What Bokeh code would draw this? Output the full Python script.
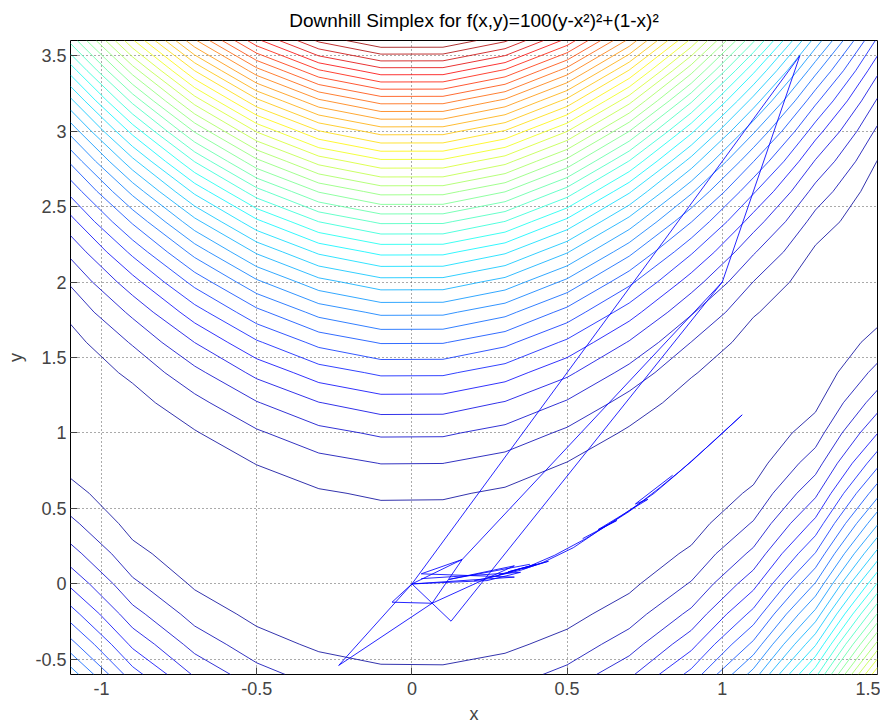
import numpy as np
from bokeh.plotting import figure
from bokeh.models import FixedTicker, Range1d
from bokeh.embed import file_html
from bokeh.resources import INLINE

# ---- data ----
GRID_X = np.linspace(-1.1, 1.5, 14)      # mesh x (step 0.2)
GRID_Y = np.linspace(-0.6, 3.6, 22)      # mesh y (step 0.2)
N_LEVELS = 40

X_TICKS = [-1, -0.5, 0, 0.5, 1, 1.5]
X_TICK_LABELS = ["-1", "-0.5", "0", "0.5", "1", "1.5"]
Y_TICKS = [-0.5, 0, 0.5, 1, 1.5, 2, 2.5, 3, 3.5]
Y_TICK_LABELS = ["-0.5", "0", "0.5", "1", "1.5", "2", "2.5", "3", "3.5"]

# simplex path segments
PATH_XS = [
    [0.162, 0.0, 1.25, 1.0, 0.162],
    [1.0, 0.126, 0.0],
    [0.0, -0.236, 0.065, -0.064, 0.0],
    [0.065, 0.162, 0.03, 0.33, 0.0],
    [0.0, 0.242, 0.35, 0.03],
    [0.065, 0.33, 0.12, 0.38],
    [0.20, 0.35, 0.42, 0.52, 0.60, 0.70, 0.80, 0.90, 1.00, 1.064],
    [1.064, 0.98, 0.86, 0.78, 0.66, 0.56, 0.46, 0.37, 0.25],
    [0.28, 0.40, 0.31, 0.44, 0.36],
    [0.84, 0.72, 0.76, 0.60, 0.66, 0.55],
]
PATH_YS = [
    [0.162, 0.0, 3.5, 2.0, 0.162],
    [2.0, -0.247, 0.0],
    [0.0, -0.54, -0.128, -0.121, 0.0],
    [-0.128, 0.162, 0.067, 0.045, 0.0],
    [0.0, 0.022, 0.077, 0.035],
    [-0.128, 0.12, 0.03, 0.13],
    [0.02, 0.09, 0.14, 0.24, 0.35, 0.48, 0.64, 0.81, 1.00, 1.12],
    [1.12, 0.96, 0.74, 0.60, 0.43, 0.30, 0.19, 0.11, 0.04],
    [0.06, 0.13, 0.08, 0.15, 0.10],
    [0.72, 0.53, 0.56, 0.36, 0.42, 0.30],
]

TITLE = "Downhill Simplex for f(x,y)=100(y-x²)²+(1-x)²"

# ---- field ----
GX, GY = np.meshgrid(GRID_X, GRID_Y)
Z = 100 * (GY - GX ** 2) ** 2 + (1 - GX) ** 2
zmin, zmax = float(Z.min()), float(Z.max())
levels = np.linspace(zmin, zmax, N_LEVELS + 2)[1:-1]


def jet(t):
    r = min(max(1.5 - abs(4 * t - 3), 0), 1)
    g = min(max(1.5 - abs(4 * t - 2), 0), 1)
    b = min(max(1.5 - abs(4 * t - 1), 0), 1)
    return "#%02x%02x%02x" % (int(r * 255), int(g * 255), int(b * 255))


colors = [jet((lv - zmin) / (zmax - zmin)) for lv in levels]

FONT = "Liberation Sans"

p = figure(width=880, height=726, output_backend="svg", toolbar_location=None,
           x_range=Range1d(-1.1, 1.5), y_range=Range1d(-0.6, 3.6),
           min_border_left=70, min_border_right=3, min_border_top=40, min_border_bottom=52)
p.title.text = TITLE
p.title.align = "center"
p.title.vertical_align = "top"
p.title.text_font = FONT
p.title.text_font_size = "19px"
p.title.text_font_style = "normal"
p.title.text_color = "#000000"
p.title.standoff = 16

p.contour(x=GRID_X, y=GRID_Y, z=Z, levels=list(levels), line_color=colors,
          line_width=1, line_alpha=0.8)
p.multi_line(xs=PATH_XS, ys=PATH_YS, line_color="#0000ff", line_width=1, line_alpha=0.85)

p.outline_line_color = "#000000"
p.outline_line_width = 1

for ax, ticks, labels, lab in ((p.xaxis[0], X_TICKS, X_TICK_LABELS, "x"),
                               (p.yaxis[0], Y_TICKS, Y_TICK_LABELS, "y")):
    ax.ticker = FixedTicker(ticks=ticks)
    ax.major_label_overrides = {t: l for t, l in zip(ticks, labels)}
    ax.axis_label = lab
    ax.axis_label_text_font = FONT
    ax.axis_label_text_font_size = "18px"
    ax.axis_label_text_font_style = "normal"
    ax.major_label_text_font = FONT
    ax.major_label_text_font_size = "18px"
    ax.major_tick_in = 7
    ax.major_tick_out = 0
    ax.minor_tick_line_color = None
    ax.axis_line_color = None
    ax.major_tick_line_color = "#444444"

p.xaxis.major_label_standoff = 7
p.xaxis.axis_label_standoff = 6
p.yaxis.major_label_standoff = 4
p.yaxis.axis_label_standoff = 6

p.xgrid.ticker = FixedTicker(ticks=X_TICKS)
p.ygrid.ticker = FixedTicker(ticks=Y_TICKS)
p.grid.grid_line_color = "#555555"
p.grid.grid_line_dash = "1 3"
p.grid.grid_line_width = 1

open("out.html", "w").write(file_html(p, INLINE))
